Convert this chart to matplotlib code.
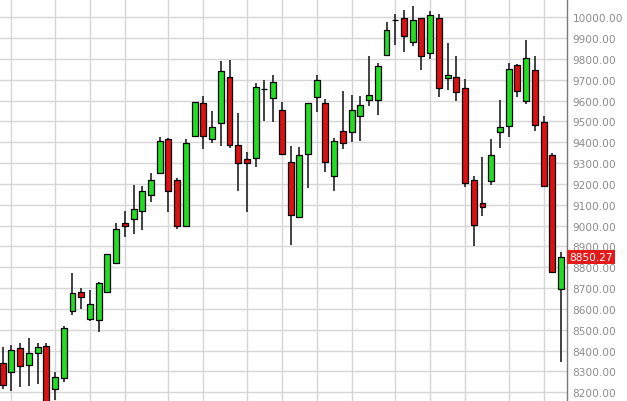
import matplotlib
matplotlib.use("Agg")
import matplotlib.pyplot as plt
import numpy as np

# Weekly OHLC values
opens = [8341, 8299, 8414, 8332, 8387, 8424, 8216, 8267, 8589, 8680,
         8552, 8548, 8680, 8821, 9011, 9032, 9072, 9147, 9253, 9416,
         9220, 9000, 9429, 9589, 9416, 9493, 9712, 9387, 9320, 9323,
         9656, 9611, 9555, 9304, 9040, 9344, 9616, 9587, 9240, 9456,
         9448, 9528, 9603, 9603, 9820, 9987, 9995, 9880, 9995, 9827,
         9995, 9707, 9712, 9659, 9219, 9107, 9213, 9448, 9480, 9771,
         9597, 9748, 9496, 9339, 8696]
highs = [8416, 8428, 8435, 8459, 8435, 8435, 8296, 8520, 8773, 8699,
         8691, 8731, 8866, 9011, 9072, 9195, 9189, 9253, 9424, 9422,
         9227, 9416, 9595, 9624, 9552, 9792, 9796, 9541, 9355, 9683,
         9699, 9723, 9595, 9384, 9376, 9590, 9723, 9608, 9419, 9648,
         9628, 9624, 9813, 9781, 9976, 10016, 10036, 10056, 9997, 10032,
         10016, 9875, 9813, 9704, 9240, 9328, 9416, 9604, 9779, 9776,
         9892, 9816, 9528, 9347, 8872]
lows = [8216, 8208, 8224, 8232, 8240, 8100, 8164, 8248, 8572, 8600,
        8541, 8488, 8675, 8815, 8944, 8960, 8980, 9115, 9250, 9067,
        8984, 8992, 9427, 9368, 9397, 9381, 9371, 9168, 9067, 9280,
        9504, 9499, 9340, 8908, 9036, 9179, 9544, 9256, 9168, 9368,
        9403, 9408, 9573, 9531, 9818, 9868, 9832, 9864, 9747, 9800,
        9616, 9652, 9597, 9184, 8901, 9048, 9195, 9371, 9424, 9616,
        9584, 9456, 9185, 8776, 8347]
closes = [8235, 8403, 8328, 8387, 8416, 8150, 8272, 8509, 8677, 8656,
          8624, 8725, 8864, 8984, 9000, 9080, 9168, 9219, 9405, 9168,
          9000, 9397, 9592, 9429, 9472, 9744, 9387, 9299, 9299, 9664,
          9656, 9691, 9344, 9052, 9339, 9587, 9699, 9307, 9408, 9397,
          9555, 9580, 9628, 9768, 9940, 9987, 9912, 9988, 9813, 10011,
          9659, 9723, 9640, 9205, 9003, 9088, 9340, 9475, 9752, 9645,
          9803, 9484, 9189, 8779, 8850.27]
# week indices where a new month starts (vertical grid lines)
month_starts = [1, 6, 10, 14, 19, 23, 28, 32, 36, 40, 45, 49, 53, 58, 62]
y_ticks = list(range(8200, 10001, 100))
last_price = closes[-1]

GREEN = "#22DD22"
RED = "#DD1111"

fig = plt.figure(figsize=(6.27, 4.02), dpi=100)
ax = fig.add_axes([0, 0, 567 / 627, 1])

x = np.arange(len(opens))
o = np.array(opens, float)
c = np.array(closes, float)
h = np.array(highs, float)
l = np.array(lows, float)

ax.vlines(x, l, h, color="#333333", linewidth=1.3, zorder=2)
colors = np.where(c > o, GREEN, np.where(c < o, RED, "black"))
ax.bar(x, c - o, bottom=o, width=0.68, color=colors, edgecolor="black",
       linewidth=0.9, zorder=3)

ax.set_xlim(-0.31, 64.69)
ax.set_ylim(8158, 10088)

ax.set_yticks(y_ticks)
ax.set_yticklabels([f"{v:.2f}" for v in y_ticks])
ax.set_xticks(month_starts)
ax.set_xticklabels([])
ax.tick_params(axis="x", length=0)
ax.yaxis.tick_right()
ax.tick_params(axis="y", length=0, pad=4, labelsize=7.6, labelcolor="#8c8c8c")
ax.grid(True, color="#d6d6d6", linewidth=1.0, zorder=0)
ax.set_axisbelow(True)

for s in ["top", "left", "bottom"]:
    ax.spines[s].set_visible(False)
ax.spines["right"].set_color("#7a7a7a")
ax.spines["right"].set_linewidth(1.0)

ax.text(1.004, last_price, f"{last_price:.2f}", transform=ax.get_yaxis_transform(),
        ha="left", va="center", color="white", fontsize=7.6,
        bbox=dict(boxstyle="square,pad=0.2", facecolor="#E41A1A", edgecolor="none"),
        zorder=5, clip_on=False)

fig.savefig("out.png", dpi=100)
